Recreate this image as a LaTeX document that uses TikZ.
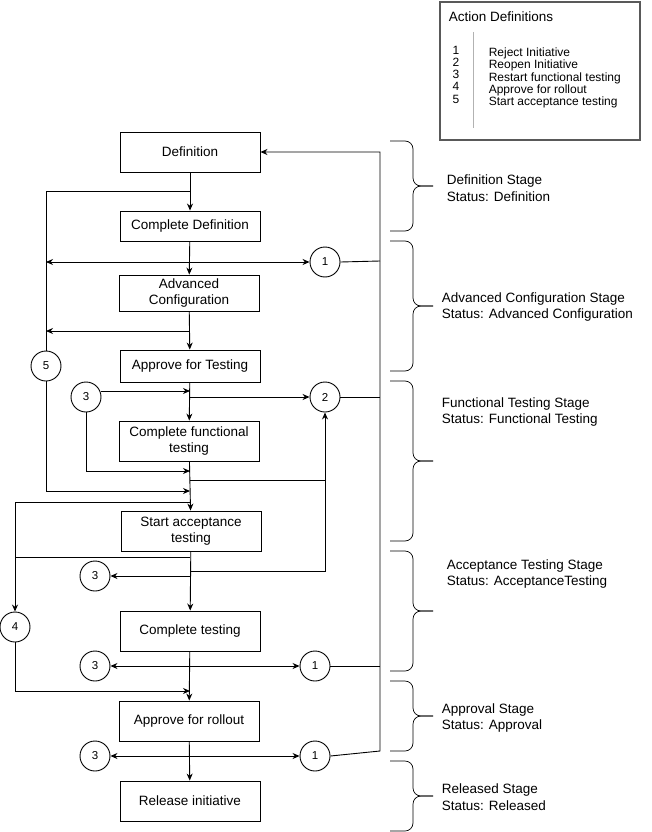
\documentclass[tikz,border=0pt]{standalone}
\usepackage{fontspec}
\setmainfont{Liberation Sans}
\usetikzlibrary{arrows.meta}
\begin{document}
\begin{tikzpicture}[x=1pt,y=-1pt,line width=0.9pt,
  box/.style={draw,minimum width=140pt,minimum height=30pt,align=center,font=\fontsize{13.5}{15.5}\selectfont,inner sep=1pt},
  circ/.style={draw,circle,minimum size=30pt,inner sep=0pt,font=\fontsize{11.5}{12}\selectfont},
  arr/.style={-{Stealth[length=7pt,width=6pt]}},
  barr/.style={{Stealth[length=7pt,width=6pt]}-{Stealth[length=7pt,width=6pt]}},
  stage/.style={anchor=west,align=left,font=\fontsize{13.5}{16.5}\selectfont},
  brc/.style={rounded corners=8pt}]
\useasboundingbox (0,0) rectangle (651,832);
% legend
\draw[gray!70!black,line width=1.5pt] (440,2) rectangle (640,140);
\node[anchor=west,font=\fontsize{13.5}{15}\selectfont] (lt) at (445,17) {Action Definitions};
\draw[gray!60,line width=0.6pt] (473,32) -- (473,128);
\node[anchor=north,align=center,font=\fontsize{12}{12.3}\selectfont] (ln) at (456,42) {1\\2\\3\\4\\5};
\node[anchor=north west,align=left,font=\fontsize{12}{12.3}\selectfont] (lx) at (485,44) {Reject Initiative\\Reopen Initiative\\Restart functional testing\\Approve for rollout\\Start acceptance testing};
% boxes
\node[box,minimum height=40pt] (def) at (190,152) {Definition};
\node[box] (cdef) at (190,226) {Complete Definition};
\node[box,minimum height=36pt] (adv) at (189,293) {Advanced\\Configuration};
\node[box,minimum height=32pt] (apt) at (190,366) {Approve for Testing};
\node[box,minimum height=40pt] (cft) at (189,441) {Complete functional\\testing};
\node[box,minimum height=40pt] (sat) at (191,531) {Start acceptance\\testing};
\node[box,minimum height=40pt] (ct) at (190,631) {Complete testing};
\node[box,minimum height=40pt] (afr) at (189,721) {Approve for rollout};
\node[box,minimum height=40pt] (rel) at (190,801) {Release initiative};
% circles
\node[circ] (c1a) at (325,262) {1};
\node[circ] (c5) at (46,366) {5};
\node[circ] (c3a) at (86,397) {3};
\node[circ] (c2) at (325,397) {2};
\node[circ] (c4) at (15,627) {4};
\node[circ] (c3b) at (95,576) {3};
\node[circ] (c3c) at (95,666) {3};
\node[circ] (c1b) at (315,666) {1};
\node[circ] (c3d) at (95,756) {3};
\node[circ] (c1c) at (315,756) {1};
% main flow
\draw[arr] (def) -- (cdef);
\draw[arr] (cdef) -- (adv);
\draw[arr] (adv) -- (apt);
\draw[arr] (apt) -- (cft);
\draw[arr] (cft) -- (sat);
\draw[arr] (sat) -- (ct);
\draw[arr] (ct) -- (afr);
\draw[arr] (afr) -- (rel);
% right return line
\coordinate (rt) at (380,152);
\coordinate (rb) at (380,751);
\draw[arr] (c1c.east) -- (rb) -- (rt) -- (def.east);
\draw (c1b.east) -- (380,666);
\draw (c2.east) -- (380,397);
\draw (c1a.east) -- (380,261);
% action 5 loop
\coordinate (l5) at (46,262);
\draw (190,191) -- (46,191) -- (c5.north);
\draw[arr] (c5.south) -- (46,491) -- (190,491);
\draw[barr] (l5) -- (c1a.west);
\draw[arr] (189,331) -- (46,331);
% action 3 loop to functional testing
\coordinate (h391) at (0,391);
\draw[arr] (c3a.east |- h391) -- (190,391);
\draw[arr] (c3a.south) |- (190,471);
\draw[arr] (190,397) -- (c2.west);
\draw[arr] (190,571) -| (c2.south);
\draw (190,480) -- (325,480);
% action 4
\draw[arr] (190,502) -| (c4.north);
\draw (190,557) -- (15,557);
\draw[arr] (c4.south) |- (190,691);
% restarts / rejects
\draw[arr] (190,576) -- (c3b.east);
\draw[barr] (c3c.east) -- (c1b.west);
\draw[barr] (c3d.east) -- (c1c.west);
% braces and stages
\foreach \a/\b/\n/\tx/\ty/\tt in {141/231/s1/443/188/Definition Stage\\Status: Definition,
  241/371/s2/438/307/Advanced Configuration Stage\\Status: Advanced Configuration,
  381/541/s3/438/412/Functional Testing Stage\\Status: Functional Testing,
  551/671/s4/443/574/Acceptance Testing Stage\\Status: AcceptanceTesting,
  681/751/s5/438/718/Approval Stage\\Status: Approval,
  761/831/s6/438/797/Released Stage\\Status: Released}{
  \pgfmathsetmacro{\m}{(\a+\b)/2}
  \draw[brc,line width=0.7pt] (390,\a) -- (413,\a) -- (413,\m) -- (433,\m);
  \draw[brc,line width=0.7pt] (433,\m) -- (413,\m) -- (413,\b) -- (390,\b);
  \node[stage] (\n) at (\tx,\ty) {\tt};
}
\end{tikzpicture}
\end{document}
